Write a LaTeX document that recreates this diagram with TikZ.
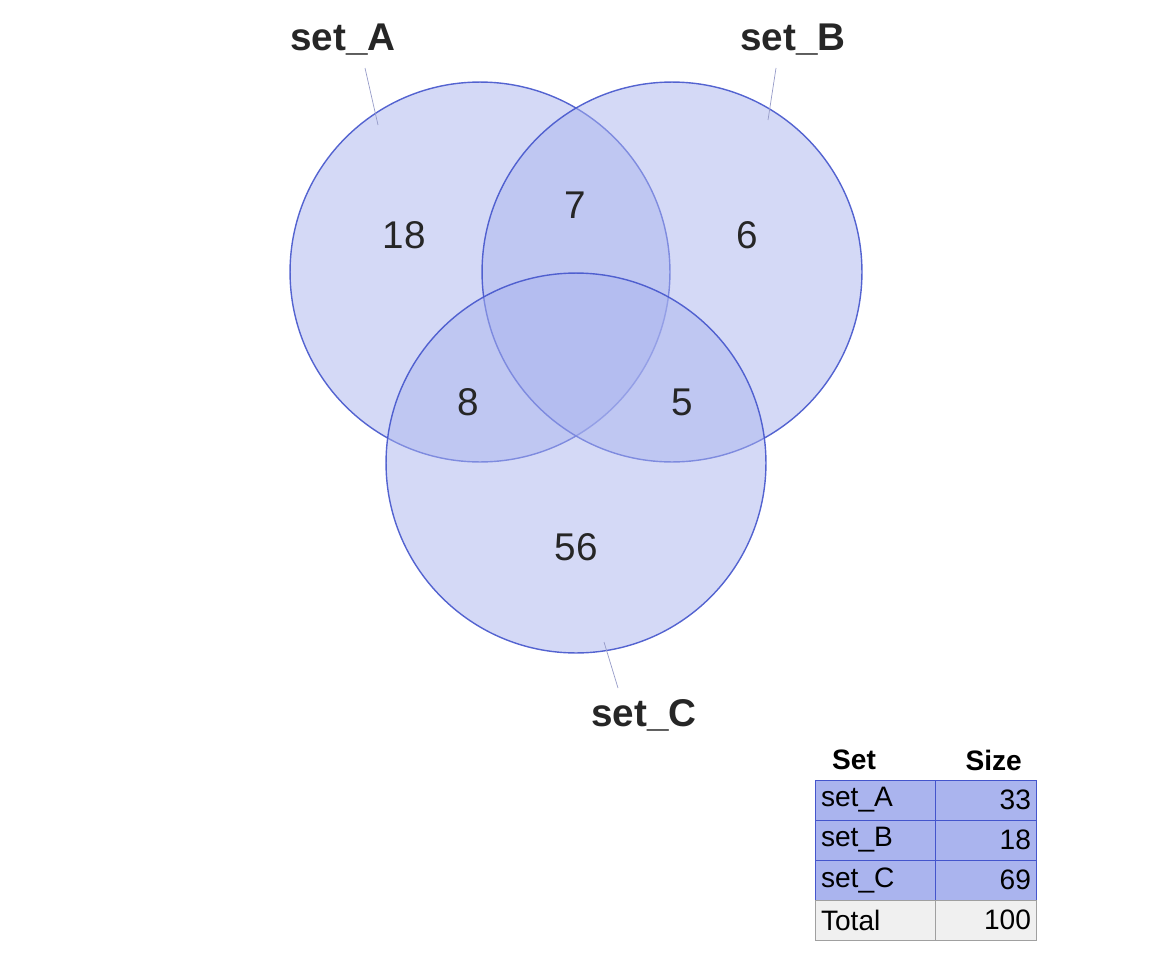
\documentclass[tikz,border=0pt]{standalone}
\usepackage{fontspec}
\setmainfont{Liberation Sans}
\definecolor{setfill}{RGB}{170,180,238}
\definecolor{setedge}{RGB}{68,85,204}
\definecolor{leadline}{RGB}{150,155,200}
\definecolor{totfill}{RGB}{240,240,240}
\definecolor{totedge}{RGB}{160,160,160}
\tikzset{
  setcirc/.style={circle, draw=setedge, fill=setfill, fill opacity=0.5, draw opacity=0.9, thick, minimum size=7.6cm, inner sep=0pt},
  count/.style={font=\fontsize{22}{24}\selectfont, text=black!85},
  setname/.style={font=\bfseries\fontsize{22}{24}\selectfont, text=black!85},
  cellbox/.style={draw=setedge, fill=setfill, minimum height=0.8cm, inner sep=3pt, font=\fontsize{16}{18}\selectfont},
  totbox/.style={cellbox, draw=totedge, fill=totfill},
}
\begin{document}
\begin{tikzpicture}[x=0.02cm, y=-0.02cm]
  \useasboundingbox (0,0) rectangle (1152,960);
  % circles
  \node[setcirc] (A) at (480,272) {};
  \node[setcirc] (B) at (672,272) {};
  \node[setcirc] (C) at (576,463) {};
  % region counts
  \node[count] at (404,235) {18};
  \node[count] at (575,205) {7};
  \node[count] at (747,235) {6};
  \node[count] at (468,402) {8};
  \node[count] at (682,402) {5};
  \node[count] at (576,547) {56};
  % set labels
  \node[setname] (labA) at (343,40) {set\_A};
  \node[setname] (labB) at (793,40) {set\_B};
  \node[setname] (labC) at (644,715) {set\_C};
  \coordinate (tipA) at (378,125);
  \coordinate (tipB) at (768,120);
  \coordinate (tipC) at (604,642);
  \draw[leadline] (365,68) -- (tipA);
  \draw[leadline] (776,68) -- (tipB);
  \draw[leadline] (618,688) -- (tipC);
  % table
  \node[font=\bfseries\fontsize{16}{18}\selectfont, anchor=west] (hset) at (826,760) {Set};
  \node[font=\bfseries\fontsize{16}{18}\selectfont, anchor=east] (hsize) at (1028,760) {Size};
  \foreach \name/\val [count=\i] in {set\_A/33, set\_B/18, set\_C/69} {
    \node[cellbox, minimum width=2.4cm, text width=2.2cm, align=left] (n\i) at (876,760+40*\i) {\name};
    \node[cellbox, minimum width=2cm, text width=1.8cm, align=right] (v\i) at (986,760+40*\i) {\val};
  }
  \node[totbox, minimum width=2.4cm, text width=2.2cm, align=left] (ntot) at (876,920) {Total};
  \node[totbox, minimum width=2cm, text width=1.8cm, align=right] (vtot) at (986,920) {100};
\end{tikzpicture}
\end{document}
